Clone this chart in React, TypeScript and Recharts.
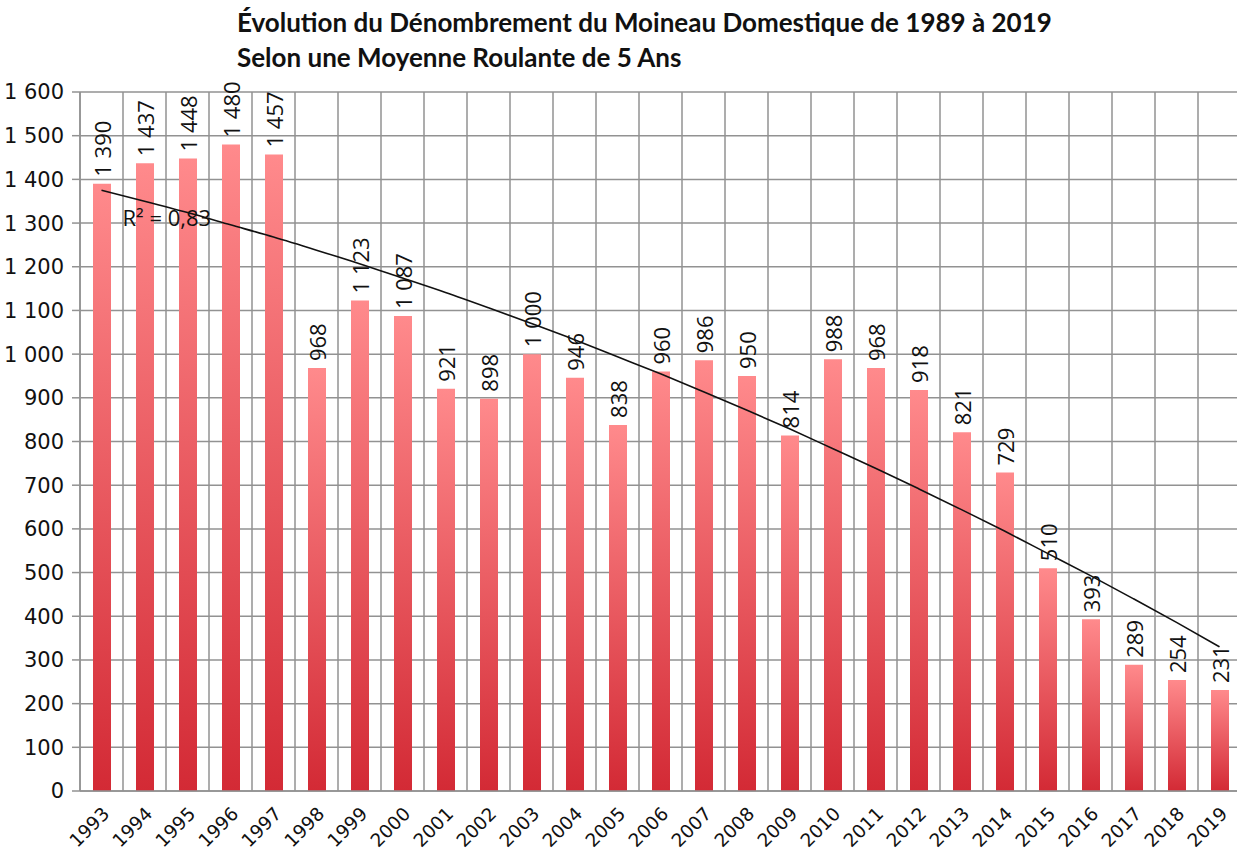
import React from "react";
import { ComposedChart, Bar, Line, XAxis, YAxis, CartesianGrid, LabelList } from "recharts";

const years = ["1993","1994","1995","1996","1997","1998","1999","2000","2001","2002","2003","2004","2005","2006","2007","2008","2009","2010","2011","2012","2013","2014","2015","2016","2017","2018","2019"];
const counts = [1390,1437,1448,1480,1457,968,1123,1087,921,898,1000,946,838,960,986,950,814,988,968,918,821,729,510,393,289,254,231];
// trend line values (polynomial trend, R² = 0,83)
const trend = [1375,1350,1324,1296,1268,1238,1207,1174,1141,1106,1070,1033,994,955,914,872,829,784,739,692,644,595,544,493,440,386,330];
const yTicks = [0,100,200,300,400,500,600,700,800,900,1000,1100,1200,1300,1400,1500,1600];
const titleLines = ["Évolution du Dénombrement du Moineau Domestique de 1989 à 2019", "Selon une Moyenne Roulante de 5 Ans"];
const r2Label = "R² = 0,83";

const data = years.map((y, i) => ({ year: y, count: counts[i], trend: trend[i] }));

const fmt = (v: number) => {
  const s = String(Math.round(v));
  return s.replace(/\B(?=(\d{3})+(?!\d))/g, " ");
};

const GRID = "#929292";

const BarLabel = (props: any) => {
  const { x, y, width, value } = props;
  const cx = x + width / 2;
  const ty = y - 7;
  return (
    <text
      x={cx}
      y={ty}
      transform={`rotate(-90, ${cx}, ${ty})`}
      textAnchor="start"
      dominantBaseline="central"
      fontFamily="'Open Sans', sans-serif"
      fontSize={22}
      fill="#111"
    >
      {fmt(value)}
    </text>
  );
};

const R2Label = (props: any) => {
  const { x, y, index } = props;
  if (index !== 0) return null;
  return (
    <text x={x + 21} y={y + 36} fontFamily="'Open Sans', sans-serif" fontSize={22} fill="#111">
      {r2Label}
    </text>
  );
};

const XTick = (props: any) => {
  const { x, y, payload } = props;
  const px = x + 9;
  const py = y + 16;
  return (
    <text
      x={px}
      y={py}
      transform={`rotate(-45, ${px}, ${py})`}
      textAnchor="end"
      fontFamily="'DejaVu Sans', sans-serif"
      fontSize={18.5}
      fill="#111"
    >
      {payload.value}
    </text>
  );
};

const vGen = (props: any) => {
  const { offset } = props;
  const n = years.length;
  const step = offset.width / n;
  return Array.from({ length: n + 1 }, (_, i) => offset.left + i * step);
};

export default function App() {
  return (
    <div style={{ position: "absolute", left: 0, top: 0, width: 1237, height: 854, overflow: "hidden", background: "#fff" }}>
      <div
        style={{
          position: "absolute",
          left: 237,
          top: 5,
          fontFamily: "Lato, 'Open Sans', sans-serif",
          fontWeight: 700,
          fontSize: 26,
          lineHeight: "35px",
          color: "#111",
          whiteSpace: "nowrap",
        }}
      >
        <div>{titleLines[0]}</div>
        <div>{titleLines[1]}</div>
      </div>
      <div style={{ position: "absolute", left: 0, top: 0 }}>
        <ComposedChart
          width={1245}
          height={854}
          data={data}
          margin={{ top: 92, right: 4, bottom: 0, left: 0 }}
          barCategoryGap={0}
        >
          <defs>
            <linearGradient id="barGrad" x1="0" y1="0" x2="0" y2="1">
              <stop offset="0%" stopColor="#ff8a8c" />
              <stop offset="100%" stopColor="#d32a35" />
            </linearGradient>
          </defs>
          <CartesianGrid
            stroke={GRID}
            strokeWidth={1.5}
            verticalCoordinatesGenerator={vGen}
          />
          <XAxis
            dataKey="year"
            height={63}
            interval={0}
            tick={<XTick />}
            tickLine={false}
            axisLine={{ stroke: GRID, strokeWidth: 1.5 }}
          />
          <YAxis
            width={80}
            domain={[0, 1600]}
            ticks={yTicks}
            interval={0}
            tickFormatter={fmt}
            tickSize={8}
            tickMargin={8}
            tickLine={{ stroke: GRID, strokeWidth: 1.5 }}
            axisLine={{ stroke: GRID, strokeWidth: 1.5 }}
            tick={{ fill: "#111", fontSize: 21, fontFamily: "'DejaVu Sans', sans-serif" }}
          />
          <Bar dataKey="count" fill="url(#barGrad)" barSize={18} isAnimationActive={false}>
            <LabelList dataKey="count" content={<BarLabel />} />
          </Bar>
          <Line
            type="monotone"
            dataKey="trend"
            stroke="#111"
            strokeWidth={1.6}
            dot={false}
            activeDot={false}
            isAnimationActive={false}
          >
            <LabelList dataKey="trend" content={<R2Label />} />
          </Line>
        </ComposedChart>
      </div>
    </div>
  );
}
